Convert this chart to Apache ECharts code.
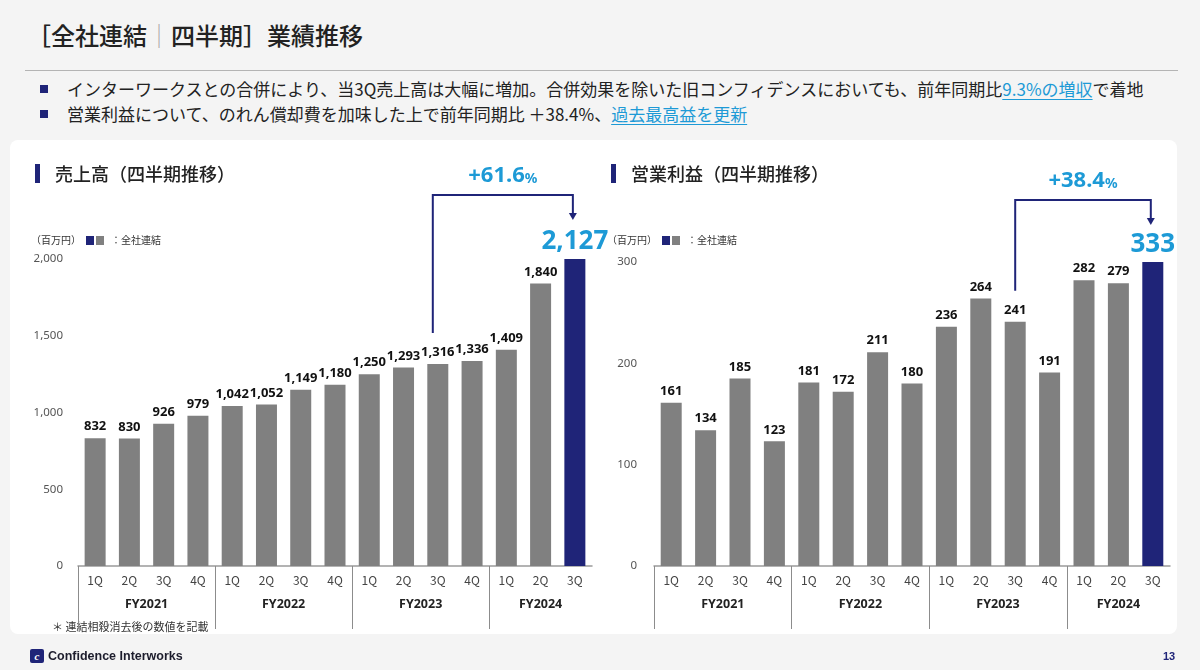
<!DOCTYPE html>
<html lang="ja">
<head>
<meta charset="utf-8">
<title>業績推移</title>
<script src="https://cdn.jsdelivr.net/npm/echarts@6/dist/echarts.min.js"></script>
<style>
  body { margin: 0; width: 1200px; height: 670px; background: #f4f4f4; position: relative; overflow: hidden;
         font-family: "Noto Sans CJK JP", "Noto Sans", sans-serif; color: #222; }
  #title { position: absolute; left: 27px; top: 18px; font-size: 24px; font-weight: 500; line-height: 34px; white-space: nowrap; }
  #title .sep { color: #a8a8a8; font-weight: 300; }
  #rule { position: absolute; left: 25px; top: 70px; width: 1153px; height: 0; border-top: 1.5px solid #b4b4b4; }
  .bullet { position: absolute; left: 40px; font-size: 17px; line-height: 25px; white-space: nowrap; }
  .bullet:before { content: ""; display: inline-block; width: 8px; height: 8px; background: #1f2478; margin-right: 19px; vertical-align: 3px; }
  .hl { color: #1d9ad6; text-decoration: underline; text-underline-offset: 3px; }
  #panel { position: absolute; left: 10px; top: 140px; width: 1167px; height: 494px; background: #fff; border-radius: 8px; }
  #main { position: absolute; left: 0; top: 0; width: 1200px; height: 670px; }
  #logo { position: absolute; left: 30px; top: 649px; width: 14px; height: 14px; background: #1f2478; border-radius: 2px;
          color: #fff; font: italic bold 11px "Liberation Serif", serif; line-height: 14px; text-align: center; }
  #brand { position: absolute; left: 48px; top: 648px; font: bold 12.5px "Liberation Sans", Arial, sans-serif; line-height: 16px; color: #1c1c2c; }
  #page { position: absolute; left: 1163px; top: 650px; font: bold 11px "Liberation Sans", Arial, sans-serif; color: #1f2478; }
</style>
</head>
<body>
<div id="title">［全社連結<span class="sep">｜</span>四半期］業績推移</div>
<div id="rule"></div>
<div class="bullet" style="top:76px">インターワークスとの合併により、当3Q売上高は大幅に増加。合併効果を除いた旧コンフィデンスにおいても、前年同期比<span class="hl">9.3%の増収</span>で着地</div>
<div class="bullet" style="top:101px">営業利益について、のれん償却費を加味した上で前年同期比 ＋38.4%、<span class="hl">過去最高益を更新</span></div>
<div id="panel"></div>
<div id="main"></div>
<div id="logo">c</div>
<div id="brand">Confidence Interworks</div>
<div id="page">13</div>
<script>
// 四半期ラベル
var years = ['FY2021', 'FY2022', 'FY2023', 'FY2024'];
var quartersPerYear = [4, 4, 4, 3];
var quarterNames = ['1Q', '2Q', '3Q', '4Q'];

// 売上高（百万円）
var sales = [832, 830, 926, 979, 1042, 1052, 1149, 1180, 1250, 1293, 1316, 1336, 1409, 1840, 2127];
// 営業利益（百万円）
var profit = [161, 134, 185, 123, 181, 172, 211, 180, 236, 264, 241, 191, 282, 279, 333];

var salesTicks = { min: 0, max: 2000, interval: 500 };
var profitTicks = { min: 0, max: 300, interval: 100 };

var NAVY = '#1f2478', GRAY = '#808080', CYAN = '#1d9ad6';
var NUM_FONT = '"Noto Sans", sans-serif';
var JP_FONT = '"Noto Sans CJK JP", sans-serif';

// カテゴリ（重複しないよう年度付き）
var cats = [], bounds = [], centers = [], pos = 0;
years.forEach(function (y, i) {
    bounds.push(pos);
    centers.push(pos + quartersPerYear[i] / 2);
    for (var q = 0; q < quartersPerYear[i]; q++) cats.push(y + '-' + quarterNames[q]);
    pos += quartersPerYear[i];
});
var total = pos;

function quarterAxis(gridIndex) {
    return {
        type: 'category', gridIndex: gridIndex, data: cats, position: 'bottom',
        axisLine: { lineStyle: { color: '#9a9a9a', width: 1.5 } },
        axisTick: { show: false },
        axisLabel: {
            margin: 8, fontSize: 12, color: '#444', fontFamily: JP_FONT,
            formatter: function (v) { return v.split('-')[1]; }
        }
    };
}

function yearAxis(gridIndex) {
    return {
        type: 'value', gridIndex: gridIndex, position: 'bottom', min: 0, max: total,
        axisLine: { show: false }, splitLine: { show: false },
        axisTick: { show: true, customValues: bounds, length: 63, lineStyle: { color: '#8c8c8c', width: 1 } },
        axisLabel: {
            show: true, customValues: centers, margin: 32, fontSize: 12.5, fontWeight: 'bold',
            color: '#222', fontFamily: NUM_FONT,
            formatter: function (v) { return years[centers.indexOf(v)]; }
        }
    };
}

function valueAxis(gridIndex, t, margin) {
    return {
        type: 'value', gridIndex: gridIndex, min: t.min, max: t.max, interval: t.interval,
        axisLine: { show: false }, axisTick: { show: false }, splitLine: { show: false },
        axisLabel: {
            margin: margin, fontSize: 11.5, color: '#555', fontFamily: NUM_FONT,
            formatter: function (v) { return v.toLocaleString('en-US'); }
        }
    };
}

function barData(values) {
    return values.map(function (v, i) {
        if (i < values.length - 1) return v;
        // 最新四半期は強調表示
        return {
            value: v,
            itemStyle: { color: NAVY },
            label: { fontSize: 26, color: CYAN, distance: 4, fontFamily: NUM_FONT }
        };
    });
}

function barSeries(values, xIdx, yIdx) {
    return {
        type: 'bar', xAxisIndex: xIdx, yAxisIndex: yIdx, barWidth: 21,
        data: barData(values),
        itemStyle: { color: GRAY },
        clip: true,
        label: {
            show: true, position: 'top', distance: 5, fontSize: 13, fontWeight: 'bold',
            color: '#111', fontFamily: NUM_FONT,
            formatter: function (p) { return p.value.toLocaleString('en-US'); }
        }
    };
}

var myChart = echarts.init(document.getElementById('main'));

myChart.setOption({
    animation: false,
    backgroundColor: 'transparent',
    grid: [
        { left: 78, width: 514, top: 259, bottom: 104 },
        { left: 654, width: 516, top: 262, bottom: 104 }
    ],
    xAxis: [quarterAxis(0), yearAxis(0), quarterAxis(1), yearAxis(1)],
    yAxis: [valueAxis(0, salesTicks, 15), valueAxis(1, profitTicks, 17)],
    series: [barSeries(sales, 0, 0), barSeries(profit, 2, 1)]
});

// 見出し・凡例・増加率の注記
function header(x, text) {
    return [
        { type: 'rect', shape: { x: x, y: 164, width: 5, height: 19 }, style: { fill: NAVY } },
        { type: 'text', x: x + 20, y: 174, style: { text: text, font: '500 18px ' + JP_FONT, fill: '#222', verticalAlign: 'middle' } }
    ];
}

function legend(x) {
    return [
        { type: 'text', x: x, y: 240, style: { text: '（百万円）', font: '10px ' + JP_FONT, fill: '#333', verticalAlign: 'middle' } },
        { type: 'rect', shape: { x: x + 55, y: 236, width: 8, height: 9 }, style: { fill: NAVY } },
        { type: 'rect', shape: { x: x + 65, y: 236, width: 8, height: 9 }, style: { fill: GRAY } },
        { type: 'text', x: x + 80, y: 240, style: { text: '：全社連結', font: '10px ' + JP_FONT, fill: '#333', verticalAlign: 'middle' } }
    ];
}

function growthArrow(xIdx, yIdx, fromIdx, values, topY, rate, shiftFrom) {
    var toIdx = values.length - 1;
    var x0 = myChart.convertToPixel({ xAxisIndex: xIdx }, fromIdx) + shiftFrom;
    var x1 = myChart.convertToPixel({ xAxisIndex: xIdx }, toIdx) - 2;
    var y0 = myChart.convertToPixel({ yAxisIndex: yIdx }, values[fromIdx]) - 31;
    var tip = topY + 25;
    return [
        { type: 'polyline', shape: { points: [[x0, y0], [x0, topY], [x1, topY], [x1, tip - 6]] },
          style: { stroke: NAVY, lineWidth: 2, fill: null } },
        { type: 'polygon', shape: { points: [[x1 - 4, tip - 7], [x1 + 4, tip - 7], [x1, tip]] }, style: { fill: NAVY } },
        { type: 'text', x: (x0 + x1) / 2, y: topY - 19,
          style: { text: '{a|' + rate + '}{b|%}', align: 'center', verticalAlign: 'middle',
                   rich: { a: { font: 'bold 22px ' + NUM_FONT, fill: CYAN }, b: { font: 'bold 14px ' + NUM_FONT, fill: CYAN, padding: [6, 0, 0, 0] } } } }
    ];
}

var g = [].concat(
    header(35, '売上高（四半期推移）'),
    header(611, '営業利益（四半期推移）'),
    legend(31),
    legend(607),
    growthArrow(0, 0, 10, sales, 195, '+61.6', -5),
    growthArrow(2, 1, 10, profit, 200, '+38.4', 0),
    [{ type: 'text', x: 52, y: 627, style: { text: '＊ 連結相殺消去後の数値を記載', font: '11px ' + JP_FONT, fill: '#333', verticalAlign: 'middle' } }]
);

myChart.setOption({ graphic: g });
</script>
</body>
</html>
